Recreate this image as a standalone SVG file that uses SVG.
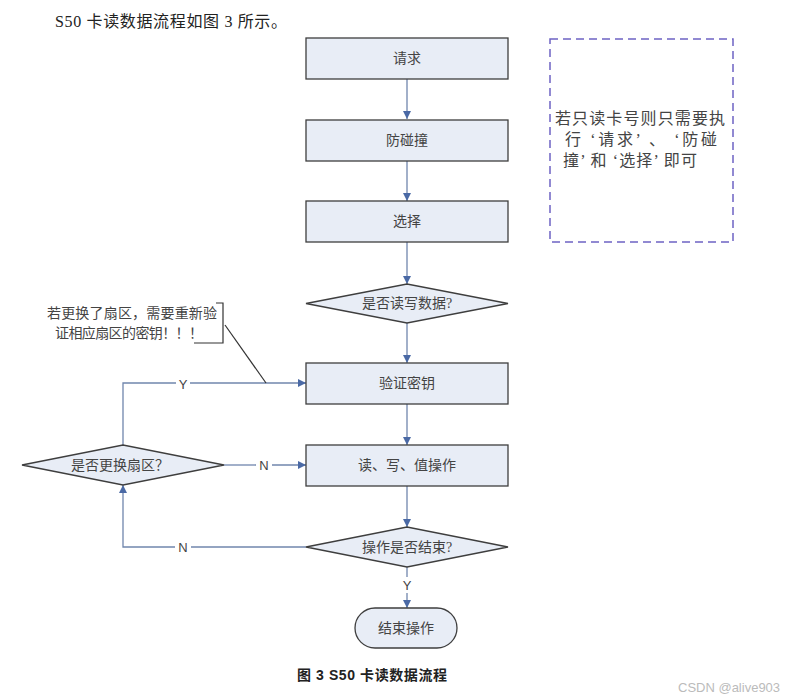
<svg xmlns="http://www.w3.org/2000/svg" width="794" height="700" viewBox="0 0 794 700">
<defs>
<style>
.node{fill:#e8edf6;stroke:#3e3e3e;stroke-width:1.3}
.t{font-family:"Liberation Serif","Noto Sans CJK SC",serif;font-size:14px;fill:#444;text-anchor:middle;dominant-baseline:central}
.nt{font-family:"Liberation Serif","Noto Sans CJK SC",serif;font-size:16px;fill:#444;dominant-baseline:central}
.lbl{font-family:"Liberation Sans","Noto Sans CJK SC",sans-serif;font-size:13px;fill:#444;text-anchor:middle;dominant-baseline:central}
.c{fill:none;stroke:#7086ad;stroke-width:1.3}
</style>
<marker id="ah" viewBox="0 0 10 10" refX="10" refY="5" markerWidth="8" markerHeight="8" markerUnits="userSpaceOnUse" orient="auto">
<path d="M0,0 L10,5 L0,10 z" fill="#4a69a5"/>
</marker>
</defs>
<rect width="794" height="700" fill="#ffffff"/>
<text x="55" y="27" font-family="Liberation Serif,Noto Sans CJK SC,serif" font-size="16" fill="#222" textLength="232" lengthAdjust="spacing">S50 卡读数据流程如图 3 所示。</text>

<g id="connectors">
<path class="c" d="M407,79 V119" marker-end="url(#ah)"/>
<path class="c" d="M407,161 V201" marker-end="url(#ah)"/>
<path class="c" d="M407,242 V284" marker-end="url(#ah)"/>
<path class="c" d="M407,323 V363" marker-end="url(#ah)"/>
<path class="c" d="M407,404 V445" marker-end="url(#ah)"/>
<path class="c" d="M407,486 V527" marker-end="url(#ah)"/>
<path class="c" d="M407,567 V577"/>
<path class="c" d="M407,593 V608" marker-end="url(#ah)"/>
<path class="c" d="M224,465 H256"/>
<path class="c" d="M272,465 H306" marker-end="url(#ah)"/>
<path class="c" d="M306,547 H191"/>
<path class="c" d="M175,547 H123 V485" marker-end="url(#ah)"/>
<path class="c" d="M123,445 V383 H176"/>
<path class="c" d="M190,383 H306" marker-end="url(#ah)"/>
<text class="lbl" x="407" y="585">Y</text>
<text class="lbl" x="264" y="465" font-family="Liberation Serif,serif">N</text>
<text class="lbl" x="183" y="547" font-family="Liberation Serif,serif">N</text>
<text class="lbl" x="183" y="384">Y</text>
</g>

<g id="n-request"><rect class="node" x="306" y="38" width="202" height="41"/><text class="t" x="407" y="58.5">请求</text></g>
<g id="n-anticoll"><rect class="node" x="306" y="120" width="202" height="41"/><text class="t" x="407" y="140.5">防碰撞</text></g>
<g id="n-select"><rect class="node" x="306" y="201" width="202" height="41"/><text class="t" x="407" y="221.5">选择</text></g>
<g id="d-rw"><polygon class="node" points="306,303.5 407,284 508,303.5 407,323"/><text class="t" x="407" y="303.5">是否读写数据?</text></g>
<g id="n-auth"><rect class="node" x="306" y="363" width="202" height="41"/><text class="t" x="407" y="383.5">验证密钥</text></g>
<g id="n-op"><rect class="node" x="306" y="445" width="202" height="41"/><text class="t" x="407" y="465.5">读、写、值操作</text></g>
<g id="d-end"><polygon class="node" points="306,547 407,527 508,547 407,567"/><text class="t" x="407" y="547">操作是否结束?</text></g>
<g id="n-finish"><rect class="node" x="355" y="608" width="102" height="40" rx="20" ry="20"/><text class="t" x="406" y="628">结束操作</text></g>
<g id="d-sector"><polygon class="node" points="22,465 123,445 224,465 123,485"/><text class="t" x="120" y="465">是否更换扇区？</text></g>

<g id="note-sector">
<path d="M216,303 H223 V343 H194" fill="none" stroke="#333" stroke-width="1.2"/>
<path d="M225,325 L266,383" fill="none" stroke="#333" stroke-width="1.2"/>
<text class="t" x="132" y="313" textLength="170" lengthAdjust="spacing">若更换了扇区，需要重新验</text>
<text class="t" x="129" y="333" textLength="148" lengthAdjust="spacing">证相应扇区的密钥！！！</text>
</g>

<g id="note-cardno">
<rect x="550" y="39" width="183" height="203" fill="none" stroke="#6e63c4" stroke-width="1.5" stroke-dasharray="8,5"/>
<text class="nt" x="555" y="118" textLength="170" lengthAdjust="spacing">若只读卡号则只需要执</text>
<text class="nt" x="565" y="139" textLength="152" lengthAdjust="spacing" xml:space="preserve">行 ‘请求’ 、 ‘防碰</text>
<text class="nt" x="563" y="160" textLength="134" lengthAdjust="spacing" xml:space="preserve">撞’ 和 ‘选择’ 即可</text>
</g>

<text x="297" y="680" font-family="Liberation Sans,Noto Sans CJK SC,sans-serif" font-size="14" font-weight="bold" fill="#222" textLength="150" lengthAdjust="spacing">图 3 S50 卡读数据流程</text>
<text x="678" y="692" font-family="Liberation Sans,sans-serif" font-size="13" fill="#bbb">CSDN @alive903</text>
</svg>
